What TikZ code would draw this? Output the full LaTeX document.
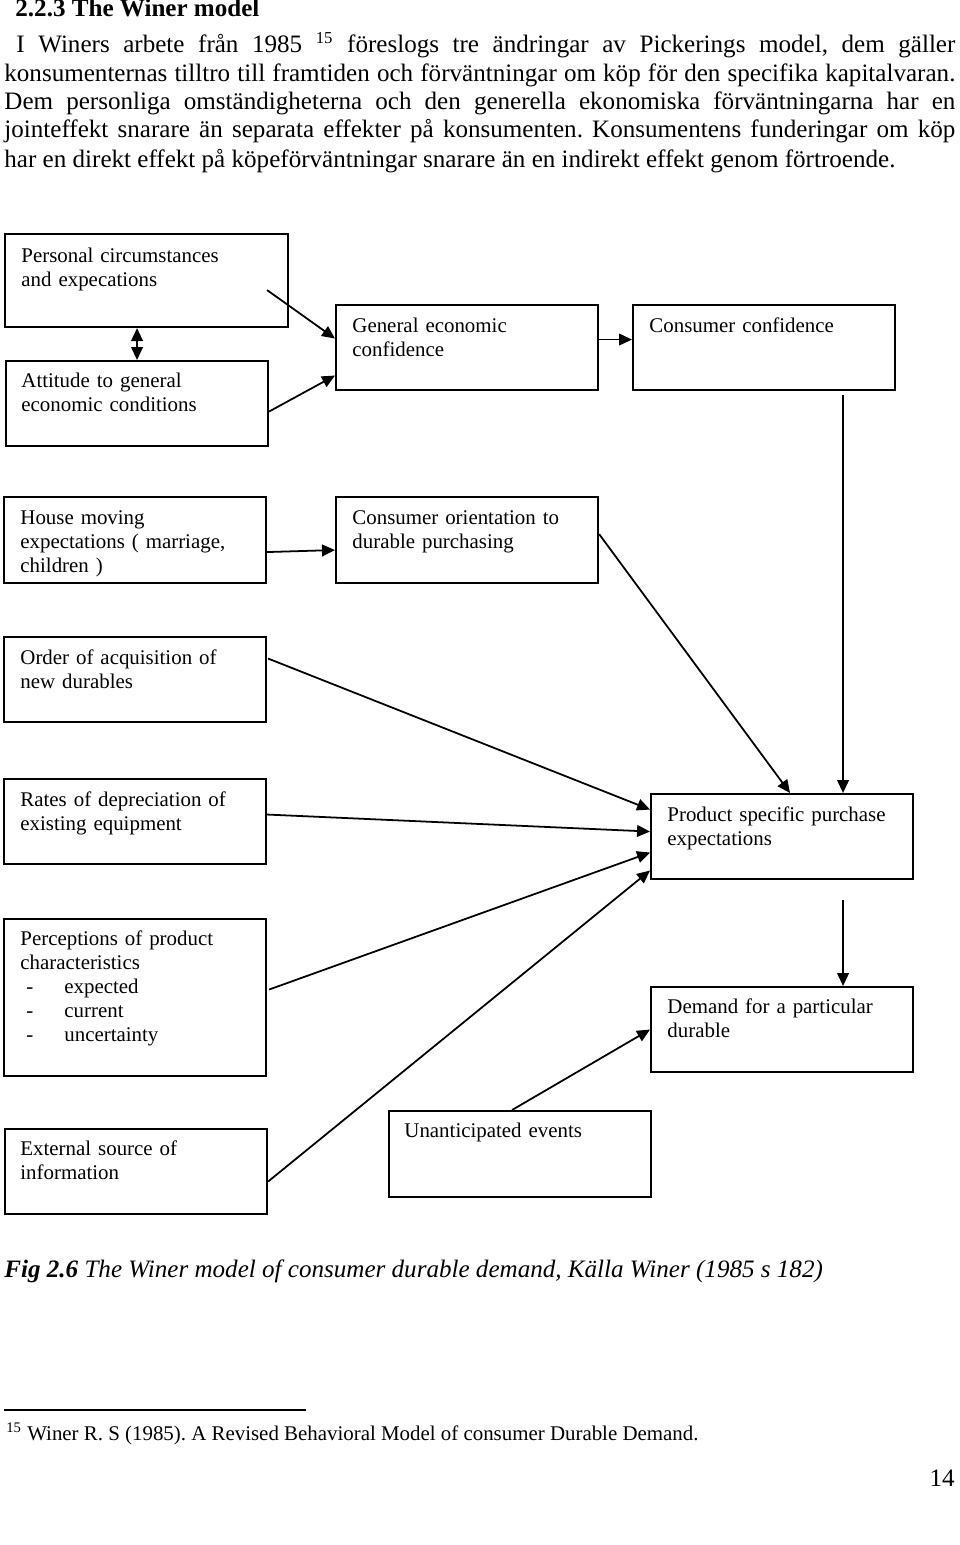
\documentclass[tikz,border=0pt]{standalone}
\usepackage{fontspec}
\setmainfont{Liberation Serif}
\usetikzlibrary{arrows.meta}
\newlength\pxl
\setlength\pxl{0.4785pt}
\frenchspacing
\begin{document}
\begin{tikzpicture}
	[x=0.4785pt,y=-0.4785pt,
	box/.style={rectangle,draw=black,line width=1pt,anchor=north west,inner sep=0pt,
		minimum width=262*0.4785pt,minimum height=85*0.4785pt},
	boxtxt/.style={anchor=base west,inner sep=0pt,text width=240*0.4785pt,align=left,
		font=\fontsize{10}{11.5}\selectfont},
	body/.style={anchor=base west,inner sep=0pt,font=\fontsize{12}{14}\selectfont},
	arr/.style={-{Triangle[length=6.2pt,width=5.6pt]},line width=0.85pt},
	dbl/.style={{Triangle[length=6.2pt,width=5.6pt]}-{Triangle[length=6.2pt,width=5.6pt]},line width=0.85pt}
	]
	\useasboundingbox (0,0) rectangle (960,1545);

	% text above the figure
	\node[body,font=\fontsize{12}{14}\selectfont\bfseries] (head) at (15,17) {2.2.3 The Winer model};
	\node[body] (par1) at (16,53) {\makebox[939\pxl][s]{I Winers arbete från 1985 \textsuperscript{15} föreslogs tre ändringar av Pickerings model, dem gäller}};
	\node[body] (par2) at (4,82) {\makebox[951\pxl][s]{konsumenternas tilltro till framtiden och förväntningar om köp för den specifika kapitalvaran.}};
	\node[body] (par3) at (4,110) {\makebox[951\pxl][s]{Dem personliga omständigheterna och den generella ekonomiska förväntningarna har en}};
	\node[body] (par4) at (4,138) {\makebox[951\pxl][s]{jointeffekt snarare än separata effekter på konsumenten. Konsumentens funderingar om köp}};
	\node[body] (par5) at (4,167) {har en direkt effekt på köpeförväntningar snarare än en indirekt effekt genom förtroende.};

	% boxes
	\node[box,minimum width=283*0.4785pt,minimum height=93*0.4785pt] (perso) at (4,233) {};
	\node[box] (attit) at (5,360) {};
	\node[box] (geneco) at (335,304) {};
	\node[box] (cconf) at (632,304) {};
	\node[box,minimum height=86*0.4785pt] (house) at (3,496) {};
	\node[box,minimum height=86*0.4785pt] (orient) at (335,496) {};
	\node[box] (order) at (3,636) {};
	\node[box] (rates) at (3,778) {};
	\node[box] (prodexp) at (650,793) {};
	\node[box,minimum height=157*0.4785pt] (percep) at (3,918) {};
	\node[box] (demand) at (650,986) {};
	\node[box] (extern) at (4,1128) {};
	\node[box,minimum height=86*0.4785pt] (unant) at (388,1110) {};

	\node[boxtxt] (t-perso) at ([shift={(17,29)}]perso.north west) {Personal circumstances\\and expecations};
	\node[boxtxt] (t-attit) at ([shift={(16,27)}]attit.north west) {Attitude to general\\economic conditions};
	\node[boxtxt] (t-geneco) at ([shift={(17,28)}]geneco.north west) {General economic\\confidence};
	\node[boxtxt] (t-cconf) at ([shift={(17,28)}]cconf.north west) {Consumer confidence};
	\node[boxtxt] (t-house) at ([shift={(17,28)}]house.north west) {House moving\\expectations ( marriage,\\children )};
	\node[boxtxt] (t-orient) at ([shift={(17,28)}]orient.north west) {Consumer orientation to\\durable purchasing};
	\node[boxtxt] (t-order) at ([shift={(17,28)}]order.north west) {Order of acquisition of\\new durables};
	\node[boxtxt] (t-rates) at ([shift={(17,28)}]rates.north west) {Rates of depreciation of\\existing equipment};
	\node[boxtxt] (t-prodexp) at ([shift={(17,28)}]prodexp.north west) {Product specific purchase\\expectations};
	\node[boxtxt] (t-percep) at ([shift={(17,27)}]percep.north west) {Perceptions of product\\characteristics\\
		\hspace*{6\pxl}\makebox[38\pxl][l]{-}expected\\
		\hspace*{6\pxl}\makebox[38\pxl][l]{-}current\\
		\hspace*{6\pxl}\makebox[38\pxl][l]{-}uncertainty};
	\node[boxtxt] (t-demand) at ([shift={(17,27)}]demand.north west) {Demand for a particular\\durable};
	\node[boxtxt] (t-extern) at ([shift={(16,27)}]extern.north west) {External source of\\information};
	\node[boxtxt] (t-unant) at ([shift={(16,27)}]unant.north west) {Unanticipated events};

	% connectors
	\draw[dbl] (attit.north) -- (attit.north |- perso.south);
	\draw[arr] ([shift={(-22,-38)}]perso.south east) -- ([shift={(0,-9)}]geneco.west);
	\draw[arr] ([shift={(0,8)}]attit.east) -- ([shift={(0,28)}]geneco.west);
	\draw[arr] ([shift={(0,-8)}]geneco.east) -- ([shift={(0,-8)}]cconf.west);
	\coordinate (down1) at ([shift={(79,4)}]cconf.south);
	\draw[arr] (down1) -- (down1 |- prodexp.north);
	\draw[arr] ([shift={(0,12)}]house.east) -- ([shift={(0,10)}]orient.west);
	\draw[arr] ([shift={(0,-6)}]orient.east) -- ([shift={(8,0)}]prodexp.north);
	\draw[arr] ([shift={(1,-21)}]order.east) -- ([shift={(0,-27)}]prodexp.west);
	\draw[arr] ([shift={(0,-7)}]rates.east) -- ([shift={(0,-5)}]prodexp.west);
	\draw[arr] ([shift={(2,-8)}]percep.east) -- ([shift={(0,16)}]prodexp.west);
	\draw[arr] ([shift={(0,10)}]extern.east) -- ([shift={(0,34)}]prodexp.west);
	\coordinate (down2) at ([shift={(61,20)}]prodexp.south);
	\draw[arr] (down2) -- (down2 |- demand.north);
	\draw[arr] ([shift={(-8,0)}]unant.north) -- (demand.west);

	% caption and footnote
	\node[body] (capt) at (4,1277) {\textbf{\textit{Fig 2.6}} \textit{The Winer model of consumer durable demand, Källa Winer (1985 s 182)}};
	\coordinate (rule-a) at (4,1410);
	\coordinate (rule-b) at (306,1410);
	\draw[line width=0.6pt] (rule-a) -- (rule-b);
	\node[body,font=\fontsize{10}{12}\selectfont] (fnote) at (6,1440) {\textsuperscript{15} Winer R. S (1985). A Revised Behavioral Model of consumer Durable Demand.};
	\node[body,anchor=base east] (pagenr) at (955,1486) {14};
\end{tikzpicture}
\end{document}
